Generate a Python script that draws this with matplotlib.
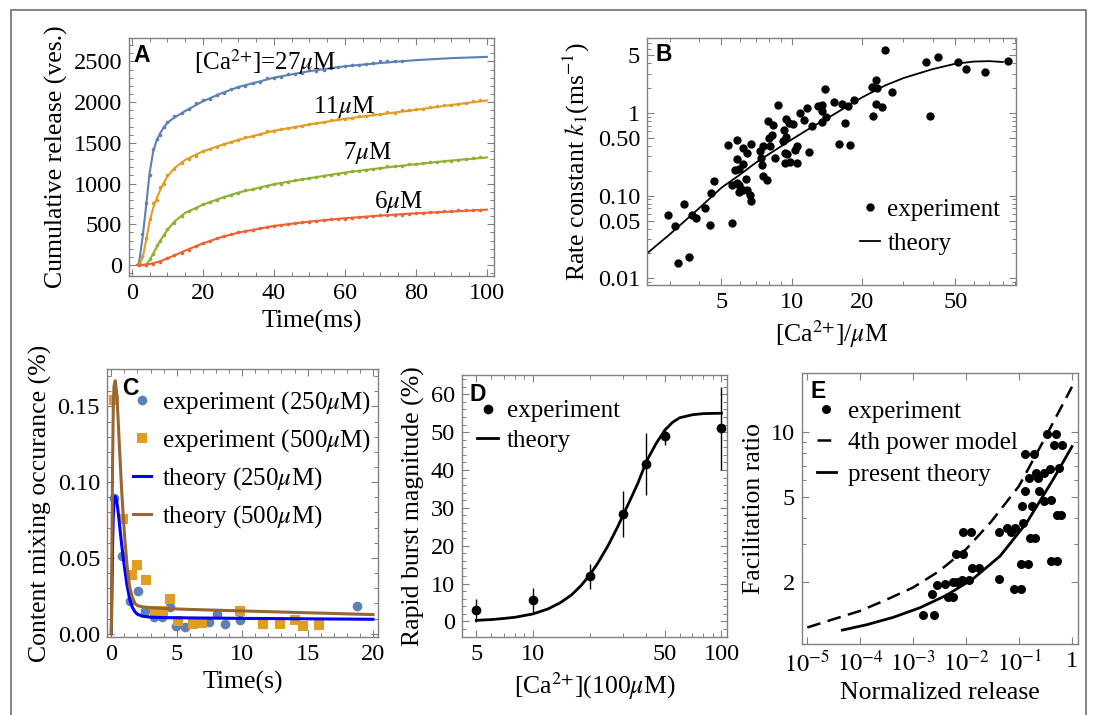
import matplotlib
matplotlib.use("Agg")
import matplotlib.pyplot as plt
from matplotlib.lines import Line2D
from matplotlib.patches import Rectangle
from matplotlib.ticker import MultipleLocator, NullFormatter, LogLocator, FixedLocator

plt.rcParams["font.family"] = ["Liberation Serif", "DejaVu Serif"]
plt.rcParams["mathtext.fontset"] = "stix"
plt.rcParams["font.size"] = 17

# ---- panel A: cumulative release ----
blue_t = [1.5, 2, 3, 4, 5, 6, 7, 8, 9, 10, 11, 12, 15, 20, 25, 30, 40, 50, 60, 70, 80, 90, 100]
blue_y = [0, 20, 330, 717, 1130, 1390, 1530, 1620, 1690, 1745, 1780, 1810, 1890, 2010, 2105, 2185,
          2300, 2380, 2440, 2480, 2515, 2540, 2555]
orange_t = [1.5, 2, 3, 4, 5, 6, 7, 8, 9, 10, 12, 15, 20, 25, 30, 40, 50, 60, 70, 80, 90, 100]
orange_y = [0, 0, 80, 300, 530, 700, 820, 920, 1010, 1085, 1190, 1290, 1395, 1470, 1537, 1648,
            1725, 1795, 1850, 1905, 1965, 2020]
green_t = [1.5, 4, 5, 6, 7, 8, 10, 12, 15, 20, 25, 30, 40, 50, 60, 70, 80, 90, 100]
green_y = [0, 0, 60, 140, 220, 300, 430, 533, 640, 740, 820, 889, 992, 1066, 1135, 1189, 1238, 1283, 1320]
red_t = [1.5, 3, 5, 8, 10, 12, 15, 20, 25, 30, 40, 50, 60, 70, 80, 90, 100]
red_y = [0, 2, 12, 45, 82, 118, 176, 266, 340, 398, 480, 533, 574, 607, 635, 656, 680]

blue_dot_t = [2, 3, 4, 5, 6, 7, 8, 9, 10, 12, 14, 16, 18, 20, 22, 24, 26, 28, 30, 32, 34, 36, 38,
              40, 42, 44, 46, 48, 50, 52, 54, 56, 58, 60, 62, 64, 66, 68, 70, 72, 74, 76]
blue_dot_y = [30, 380, 760, 1100, 1420, 1550, 1600, 1700, 1760, 1830, 1870, 1915, 1990, 2020, 2040,
              2090, 2110, 2160, 2190, 2200, 2240, 2250, 2290, 2300, 2310, 2340, 2350, 2360, 2390,
              2380, 2400, 2420, 2430, 2440, 2450, 2450, 2470, 2480, 2500, 2510, 2510, 2510]
orange_dot_t = [2, 3, 4, 5, 6, 7, 8, 9, 10, 12, 14, 16, 18, 20, 22, 24, 26, 28, 30, 32, 34, 36, 38,
                40, 42, 44, 46, 48, 50, 52, 54, 56, 58, 60, 62, 64, 66, 68, 70, 72, 74, 76, 78, 80,
                82, 84, 86, 88, 90, 92, 94, 96, 98]
orange_dot_y = [0, 110, 330, 560, 760, 800, 960, 1000, 1110, 1180, 1250, 1300, 1340, 1400, 1420,
                1450, 1490, 1510, 1530, 1570, 1580, 1610, 1640, 1640, 1670, 1680, 1700, 1710, 1730,
                1740, 1750, 1780, 1790, 1790, 1810, 1830, 1830, 1850, 1860, 1880, 1870, 1900, 1900,
                1910, 1920, 1940, 1950, 1960, 1970, 1980, 1990, 2010, 2020]
green_dot_t = [4, 5, 6, 7, 8, 9, 10, 12, 14, 16, 18, 20, 22, 24, 26, 28, 30, 32, 34, 36, 38, 40, 42,
               44, 46, 48, 50, 52, 54, 56, 58, 60, 62, 64, 66, 68, 70, 72, 74, 76, 78, 80, 82, 84,
               86, 88, 90, 92, 94, 96, 98]
green_dot_y = [0, 70, 140, 240, 300, 370, 440, 520, 600, 660, 700, 750, 770, 800, 840, 860, 880, 920,
               930, 950, 970, 990, 1000, 1020, 1040, 1050, 1070, 1080, 1090, 1110, 1120, 1130, 1150,
               1160, 1170, 1180, 1190, 1210, 1220, 1220, 1240, 1240, 1250, 1260, 1270, 1280, 1280,
               1290, 1300, 1310, 1320]
red_dot_t = [2, 4, 6, 8, 10, 12, 14, 16, 18, 20, 22, 24, 26, 28, 30, 32, 34, 36, 38, 40, 42, 44, 46,
             48, 50, 52, 54, 56, 58, 60, 62, 64, 66, 68, 70, 72, 74, 76, 78, 80, 82, 84, 86, 88, 90,
             92, 94, 96, 98]
red_dot_y = [0, 0, 15, 40, 80, 120, 150, 190, 230, 270, 290, 330, 350, 380, 400, 420, 430, 460, 470,
             480, 490, 500, 510, 530, 530, 540, 550, 560, 570, 570, 580, 590, 590, 600, 610, 610,
             620, 620, 630, 640, 640, 650, 650, 660, 660, 670, 670, 680, 680]

# ---- panel B: rate constant vs calcium ----
b_x = [2.96, 3.17, 3.27, 3.45, 3.62, 3.74, 3.89, 4.24, 4.47, 4.49, 4.65, 5.31, 5.57, 5.57, 5.80,
       5.95, 5.80, 5.83, 5.70, 5.93, 6.15, 6.21, 6.44, 6.68, 6.35, 5.93, 6.21, 6.44, 6.59, 6.70,
       7.32, 7.55, 7.87, 7.98, 7.35, 7.45, 7.55, 7.82,
       8.75, 8.33, 9.47, 9.75, 10.1, 9.22, 8.22, 9.47, 9.16, 8.09, 10.5, 10.3, 9.31, 9.50, 8.51,
       11.8, 9.31, 9.84, 10.5, 10.8, 11.3, 11.6, 12.2, 12.9, 13.5, 13.5, 13.8, 14.0, 13.5, 15.2,
       16.4, 17.4, 16.8, 15.9, 17.7, 18.5, 22.1, 22.8, 23.2, 22.2, 23.0, 24.3, 26.9, 25.0, 37.4,
       42.2, 38.9, 51.2, 55.4, 67.3, 84.4]
b_y = [0.0586, 0.0431, 0.0152, 0.0804, 0.0183, 0.0586, 0.0544, 0.0705, 0.0439, 0.109, 0.1485,
       0.406, 0.0473, 0.133, 0.142, 0.134, 0.466, 0.277, 0.206, 0.210, 0.376, 0.243, 0.327, 0.425,
       0.158, 0.112, 0.118, 0.116, 0.102, 0.0874, 0.349, 0.402, 0.807, 0.498, 0.285, 0.237, 0.174,
       0.155,
       1.24, 0.716, 0.854, 0.764, 0.743, 0.617, 0.541, 0.517, 0.458, 0.398, 0.398, 0.353, 0.331,
       0.316, 0.287, 0.337, 0.250, 0.257, 0.250, 1.01, 0.815, 1.15, 0.696, 1.22, 1.24, 1.06, 1.97,
       0.903, 0.778, 1.36, 1.27, 1.22, 0.764, 0.417, 0.409, 1.44, 2.07, 2.51, 2.03, 0.92, 1.30,
       1.19, 1.81, 5.80, 4.11, 4.82, 0.92, 4.11, 3.38, 3.14, 4.23]
b_th_x = [2.4, 3, 4, 5, 6, 7, 8, 10, 12, 15, 20, 25, 30, 40, 50, 60, 70, 80]
b_th_y = [0.020, 0.034, 0.070, 0.125, 0.18, 0.25, 0.32, 0.48, 0.66, 0.95, 1.55, 2.15, 2.65, 3.4,
          3.95, 4.2, 4.25, 4.15]

# ---- panel C: content mixing ----
c250_t = [0.18, 0.82, 1.45, 2.04, 2.6, 3.24, 3.87, 4.46, 4.97, 5.6, 7.46, 8.08, 8.66, 9.81, 18.78]
c250_y = [0.0898, 0.0512, 0.0216, 0.0282, 0.015, 0.011, 0.011, 0.0176, 0.0051, 0.0044, 0.0077,
          0.0132, 0.0062, 0.0093, 0.0183]
c500_t = [0.2, 0.89, 1.58, 1.99, 2.68, 3.31, 3.95, 4.46, 5.1, 6.24, 6.93, 9.86, 11.59, 12.87,
          14.0, 14.65, 15.85]
c500_y = [0.1544, 0.0757, 0.0386, 0.0452, 0.0353, 0.015, 0.015, 0.0227, 0.0082, 0.0066, 0.0073,
          0.015, 0.0062, 0.0062, 0.0093, 0.0051, 0.006]
c_th_t = [0, 0.05, 0.1, 0.15, 0.2, 0.3, 0.4, 0.5, 0.6, 0.8, 1.0, 1.2, 1.4, 1.6, 1.8, 2.0, 2.4, 3.0,
          4, 6, 10, 15, 20]
c_th250 = [0, 0.03, 0.06, 0.078, 0.087, 0.0905, 0.088, 0.082, 0.074, 0.058, 0.044, 0.032, 0.023,
           0.0175, 0.0145, 0.0128, 0.0115, 0.0109, 0.0106, 0.0104, 0.0101, 0.0098, 0.0095]
c_th500 = [0, 0.06, 0.115, 0.15, 0.163, 0.167, 0.16, 0.145, 0.127, 0.093, 0.066, 0.045, 0.031,
           0.024, 0.020, 0.0185, 0.0177, 0.0172, 0.0166, 0.016, 0.015, 0.0138, 0.0126]

# ---- panel D: rapid burst magnitude ----
d_x = [5, 10, 20, 30, 40, 50, 100]
d_y = [2.9, 5.7, 11.9, 28.4, 41.6, 49.0, 51.0]
d_err = [3.1, 3.2, 3.2, 6.1, 8.1, 2.45, 10.9]
d_th_x = [5, 6, 7, 8, 10, 12, 14, 16, 18, 20, 22, 25, 28, 30, 33, 36, 40, 45, 50, 55, 60, 70, 80, 100]
d_th_y = [0.3, 0.5, 0.8, 1.1, 2.0, 3.3, 5.0, 7.0, 9.5, 12.3, 15.3, 20.0, 24.8, 28.0, 32.4, 36.5,
          42.3, 47.0, 50.5, 52.6, 53.8, 54.6, 54.9, 55.0]

# ---- panel E: facilitation ----
e_x = [1.55e-3, 2.47e-3, 2.30e-3, 2.86e-3, 3.99e-3, 4.62e-3, 5.74e-3, 5.74e-3, 6.64e-3, 8.26e-3,
       6.44e-3, 8.88e-3, 8.88e-3, 0.0122, 0.0114, 0.0128, 0.0176, 0.0421, 0.0427, 0.0605, 0.070,
       0.0845, 0.0809, 0.110, 0.110, 0.147, 0.118, 0.158, 0.202, 0.113, 0.175, 0.127, 0.241, 0.151,
       0.224, 0.208, 0.290, 0.188, 0.132, 0.290, 0.400, 0.377, 0.559, 0.341, 0.491, 0.456, 0.647,
       0.400, 0.520, 0.520, 0.619]
e_y = [1.41, 1.41, 1.77, 1.95, 1.96, 1.71, 1.71, 2.01, 2.01, 2.05, 2.70, 2.70, 3.41, 3.41, 2.05,
       2.32, 2.32, 2.08, 3.44, 3.57, 3.44, 3.57, 1.85, 1.85, 2.43, 2.43, 3.77, 3.21, 3.21, 4.54,
       4.54, 5.33, 5.33, 6.13, 6.13, 6.44, 6.44, 7.90, 7.88, 4.79, 4.82, 6.77, 6.82, 9.86, 9.79,
       8.73, 8.73, 2.52, 2.52, 4.10, 4.13]
e_pow_x = [1e-5, 3e-5, 1e-4, 3e-4, 1e-3, 3e-3, 1e-2, 3e-2, 0.1, 0.3, 1.0]
e_pow_y = [1.23, 1.34, 1.47, 1.65, 1.89, 2.24, 2.85, 3.84, 5.62, 9.27, 16.3]
e_th_x = [4.6e-5, 1.31e-4, 4.19e-4, 1.34e-3, 4.30e-3, 0.01375, 0.044, 0.1406, 0.45, 1.0]
e_th_y = [1.196, 1.266, 1.371, 1.52, 1.74, 2.08, 2.65, 3.80, 6.08, 8.58]

FRAME = "#808080"
BLUE, ORANGE, GREEN, RED = "#5e81b5", "#e19c24", "#8fb032", "#eb6235"
SANS = ["Liberation Sans", "DejaVu Sans"]
CA = r"[Ca$^{2{+}}$]"


def style(ax):
    for s in ax.spines.values():
        s.set_color(FRAME)
        s.set_linewidth(1.0)
    ax.tick_params(which="both", direction="in", top=True, right=True, color=FRAME,
                   labelsize=17.5, pad=5)
    ax.tick_params(which="major", length=5, width=0.8)
    ax.tick_params(which="minor", length=2.8, width=0.7)


def panel_label(ax, s, x, y):
    ax.text(x, y, s, transform=ax.transAxes, ha="left", va="top", family=SANS,
            fontweight="bold", fontsize=16.5)


W, H = 1098, 715
fig = plt.figure(figsize=(W / 100, H / 100), dpi=100)


def box(l, r, t, b):
    return [l / W, (H - b) / H, (r - l) / W, (b - t) / H]


fig.add_artist(Rectangle((11 / W, -0.05), (1086 - 11) / W, 1.05 - 10 / H,
                         transform=fig.transFigure, fill=False, edgecolor="#707070", lw=1.2))

# A
axA = fig.add_axes(box(129, 494, 38, 276))
for t, y, c in [(blue_dot_t, blue_dot_y, BLUE), (orange_dot_t, orange_dot_y, ORANGE),
                (green_dot_t, green_dot_y, GREEN), (red_dot_t, red_dot_y, RED)]:
    axA.plot(t, y, "o", ms=2.6, mew=0, color=c)
for t, y, c in [(blue_t, blue_y, BLUE), (orange_t, orange_y, ORANGE),
                (green_t, green_y, GREEN), (red_t, red_y, RED)]:
    axA.plot(t, y, "-", lw=1.5, color=c)
axA.set_xlim(-0.8, 102)
axA.set_ylim(-135, 2787)
axA.set_xticks([0, 20, 40, 60, 80, 100])
axA.set_yticks([0, 500, 1000, 1500, 2000, 2500])
axA.xaxis.set_minor_locator(MultipleLocator(5))
axA.yaxis.set_minor_locator(MultipleLocator(100))
style(axA)
axA.set_xlabel("Time(ms)", fontsize=18.5)
axA.set_ylabel("Cumulative release (ves.)", fontsize=18.5)
axA.text(17.5, 2490, CA + r"=27$\mu$M", fontsize=18, va="center")
axA.text(51, 1943, r"11$\mu$M", fontsize=18, va="center")
axA.text(59.4, 1377, r"7$\mu$M", fontsize=18, va="center")
axA.text(68.1, 775, r"6$\mu$M", fontsize=18, va="center")
panel_label(axA, "A", 0.012, 0.975)

# B
axB = fig.add_axes(box(647, 1016, 38, 285))
axB.plot(b_x, b_y, "o", ms=6, color="black", mew=0, label="experiment")
axB.plot(b_th_x, b_th_y, "-", color="black", lw=1.3, label="theory")
axB.set_xscale("log")
axB.set_yscale("log")
axB.set_xlim(2.4, 91)
axB.set_ylim(0.0083, 8.1)
axB.set_xticks([5, 10, 20, 50], ["5", "10", "20", "50"])
axB.set_yticks([0.01, 0.05, 0.1, 0.5, 1, 5], ["0.01", "0.05", "0.10", "0.50", "1", "5"])
axB.xaxis.set_minor_locator(LogLocator(subs=range(2, 10)))
axB.yaxis.set_minor_locator(LogLocator(subs=range(2, 10)))
axB.xaxis.set_minor_formatter(NullFormatter())
axB.yaxis.set_minor_formatter(NullFormatter())
style(axB)
axB.set_xlabel(CA + r"/$\mu$M", fontsize=18.5)
axB.set_ylabel(r"Rate constant $k_1$(ms$^{-1}$)", fontsize=18.5)
axB.legend(loc="upper left", bbox_to_anchor=(0.577, 0.35), frameon=False, fontsize=18,
           handlelength=0.8, handletextpad=0.3, labelspacing=0.45, borderpad=0, borderaxespad=0)
panel_label(axB, "B", 0.022, 0.98)

# C
axC = fig.add_axes(box(107, 378, 369, 637))
axC.plot(c250_t, c250_y, "o", ms=7, mew=0, color=BLUE, label=r"experiment (250$\mu$M)")
axC.plot(c500_t, c500_y, "s", ms=7.5, mew=0, color=ORANGE, label=r"experiment (500$\mu$M)")
axC.plot(c_th_t, c_th250, "-", lw=2.2, color="#0000ff", label=r"theory (250$\mu$M)")
axC.plot(c_th_t, c_th500, "-", lw=2.2, color="#996633", label=r"theory (500$\mu$M)")
axC.set_xlim(-0.33, 20.38)
axC.set_ylim(-0.0022, 0.1747)
axC.set_xticks([0, 5, 10, 15, 20])
axC.set_yticks([0, 0.05, 0.10, 0.15], ["0.00", "0.05", "0.10", "0.15"])
axC.xaxis.set_minor_locator(MultipleLocator(1))
axC.yaxis.set_minor_locator(MultipleLocator(0.01))
style(axC)
axC.set_xlabel("Time(s)", fontsize=18.5)
axC.set_ylabel("Content mixing occurance (%)", fontsize=18.5)
axC.legend(loc="upper left", bbox_to_anchor=(0.096, 0.925), frameon=False, fontsize=18,
           handlelength=0.72, handletextpad=0.42, labelspacing=0.45, borderpad=0, borderaxespad=0)
panel_label(axC, "C", 0.055, 0.97)

# D
axD = fig.add_axes(box(462, 727, 375, 637))
axD.errorbar(d_x, d_y, yerr=d_err, fmt="o", ms=7, color="black", mew=0, ecolor="black",
             elinewidth=1.0, capsize=3, capthick=1.0, label="experiment")
axD.plot(d_th_x, d_th_y, "-", color="black", lw=2.0, label="theory")
axD.set_xscale("log")
axD.set_xlim(4.2, 107)
axD.set_ylim(-4.1, 65.1)
axD.set_xticks([5, 10, 50, 100], ["5", "10", "50", "100"])
axD.xaxis.set_minor_locator(FixedLocator([6, 7, 8, 9, 20, 30, 40, 60, 70, 80, 90]))
axD.xaxis.set_minor_formatter(NullFormatter())
axD.set_yticks([0, 10, 20, 30, 40, 50, 60])
axD.yaxis.set_minor_locator(MultipleLocator(2))
style(axD)
axD.set_xlabel(CA + r"(100$\mu$M)", fontsize=18.5)
axD.set_ylabel("Rapid burst magnitude (%)", fontsize=18.5)
hD = [Line2D([], [], ls="none", marker="o", ms=7, color="black", mew=0),
      Line2D([], [], color="black", lw=2.0)]
axD.legend(hD, ["experiment", "theory"], loc="upper left", bbox_to_anchor=(0.057, 0.905),
           frameon=False, fontsize=18, handlelength=0.85, handletextpad=0.34, labelspacing=0.27,
           borderpad=0, borderaxespad=0)
panel_label(axD, "D", 0.03, 0.97)

# E
axE = fig.add_axes(box(802, 1078, 373, 644))
axE.plot(e_x, e_y, "o", ms=6.5, mew=0, color="black", label="experiment")
axE.plot(e_pow_x, e_pow_y, color="black", lw=1.8, ls=(0, (5.5, 3.0)), label="4th power model")
axE.plot(e_th_x, e_th_y, color="black", lw=2.0, label="present theory")
axE.set_xscale("log")
axE.set_yscale("log")
axE.set_xlim(10 ** -5.1, 10 ** 0.114)
axE.set_ylim(1.03, 18.9)
axE.set_xticks([1e-5, 1e-4, 1e-3, 1e-2, 1e-1, 1],
               [r"$10^{-5}$", r"$10^{-4}$", r"$10^{-3}$", r"$10^{-2}$", r"$10^{-1}$", "1"])
axE.set_yticks([2, 5, 10], ["2", "5", "10"])
axE.xaxis.set_minor_locator(FixedLocator([]))
axE.yaxis.set_minor_locator(LogLocator(subs=range(2, 10)))
axE.yaxis.set_minor_formatter(NullFormatter())
style(axE)
axE.set_xlabel("Normalized release", fontsize=18.5)
axE.set_ylabel("Facilitation ratio", fontsize=18.5)
axE.legend(loc="upper left", bbox_to_anchor=(0.054, 0.9), frameon=False, fontsize=18,
           handlelength=0.76, handletextpad=0.5, labelspacing=0.36, borderpad=0, borderaxespad=0)
panel_label(axE, "E", 0.029, 0.974)

fig.savefig("out.png", dpi=100)
